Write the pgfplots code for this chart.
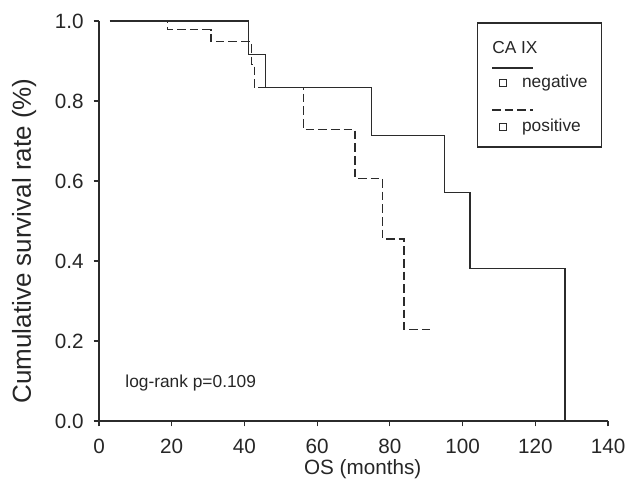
\documentclass[border=0pt]{standalone}
\usepackage{pgfplots}
\pgfplotsset{compat=1.18}
\usepackage{fontspec}
\setmainfont{Liberation Sans}
\definecolor{ln}{HTML}{2B2B2B}
\begin{document}
\begin{tikzpicture}
\begin{axis}[
  name=ax,
  scale only axis,
  width=381.75pt, height=300pt,
  xmin=0, xmax=140, ymin=0, ymax=1,
  axis x line*=bottom, axis y line*=left,
  axis line style={ln, line width=0.9pt},
  xtick={0,20,...,140}, ytick={0,0.2,...,1.0},
  tick align=outside, major tick length=4pt,
  tick style={ln, line width=0.9pt},
  clip=false,
  /pgf/number format/assume math mode=true,
  ticklabel style={font=\fontsize{15.5}{18}\selectfont, text=black!85},
  xticklabel style={yshift=-6pt},
  yticklabel style={xshift=-4pt, /pgf/number format/.cd, fixed, fixed zerofill, precision=1},
  xlabel={OS (months)},
  ylabel={Cumulative survival rate (\%)},
  xlabel style={font=\fontsize{15.5}{18}\selectfont, text=black!85, at={(axis description cs:0.518,-0.134)}, anchor=base},
  ylabel style={font=\fontsize{19.5}{22}\selectfont, text=black!85, at={(axis description cs:-0.147,0.45)}, anchor=center},
]
% negative (solid)
\addplot[const plot, ln, line width=1pt] coordinates {
 (3,1) (41.1,0.917) (45.8,0.833) (75.0,0.714) (95.1,0.571) (102.0,0.381) (128.2,0)
};
% positive (dashed)
\addplot[const plot, ln, line width=1pt, dash pattern=on 6.5pt off 3pt] coordinates {
 (3,1) (18.8,0.978) (30.8,0.948) (42.0,0.892) (42.7,0.833) (56.2,0.729) (70.4,0.607) (78.0,0.455) (83.9,0.228) (92.1,0.228)
};
% annotation
\node[anchor=west, font=\fontsize{13}{15}\selectfont, text=black!85, inner sep=0pt] at (axis cs:7.2,0.095) {log-rank p=0.109};
% legend box
\draw[ln, line width=0.9pt] (axis cs:104,0.995) rectangle (axis cs:138.1,0.685);
\node[anchor=west, font=\fontsize{13}{15}\selectfont, text=black!85, inner sep=0pt] at (axis cs:108.1,0.9325) {CA IX};
\draw[ln, line width=0.9pt] (axis cs:108.1,0.8825) -- (axis cs:119.4,0.8825);
\node[draw=ln, line width=0.7pt, minimum size=5.5pt, inner sep=0pt] at (axis cs:111.1,0.845) {};
\node[anchor=west, font=\fontsize{13}{15}\selectfont, text=black!85, inner sep=0pt] at (axis cs:116.3,0.845) {negative};
\draw[ln, line width=0.9pt, dash pattern=on 6.5pt off 3pt] (axis cs:108.1,0.7775) -- (axis cs:119.4,0.7775);
\node[draw=ln, line width=0.7pt, minimum size=5.5pt, inner sep=0pt] at (axis cs:111.1,0.735) {};
\node[anchor=west, font=\fontsize{13}{15}\selectfont, text=black!85, inner sep=0pt] at (axis cs:116.3,0.735) {positive};
\end{axis}
\pgfresetboundingbox
\path[use as bounding box] ([xshift=-74.25pt, yshift=-44pt]ax.south west) rectangle ([xshift=13.5pt, yshift=15.75pt]ax.north east);
\end{tikzpicture}
\end{document}
